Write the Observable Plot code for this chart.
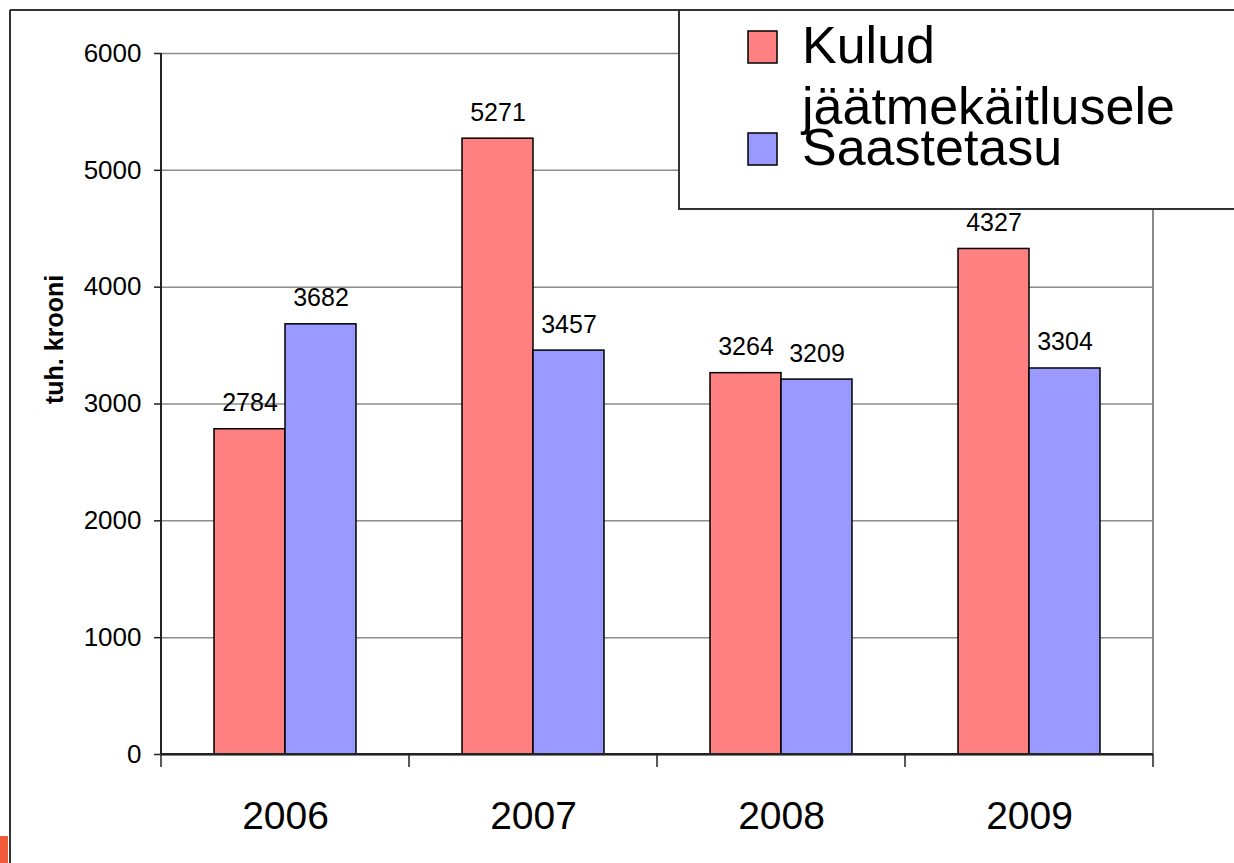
<!DOCTYPE html>
<html>
<head>
<meta charset="utf-8">
<script src="https://cdn.jsdelivr.net/npm/d3@7"></script>
<script src="https://cdn.jsdelivr.net/npm/@observablehq/plot@0.6"></script>
<style>
  html, body { margin: 0; padding: 0; background: #fff; }
  #wrap { position: relative; width: 1234px; height: 863px; overflow: hidden; font-family: "Liberation Sans", Arial, Helvetica, sans-serif; }
  #chart { position: absolute; left: 0; top: 0; }
  #legend { position: absolute; left: 0; top: 0; }
</style>
</head>
<body>
<div id="wrap">
  <div id="chart"></div>
  <svg id="legend" width="1234" height="863"></svg>
</div>
<script>
const years = ["2006", "2007", "2008", "2009"];
const series = ["Kulud jäätmekäitlusele", "Saastetasu"];
const kulud = [2784, 5271, 3264, 4327];
const saastetasu = [3682, 3457, 3209, 3304];
const yTicks = [0, 1000, 2000, 3000, 4000, 5000, 6000];
const colors = ["#FF8080", "#9999FF"];
const yLabel = "tuh. krooni";
const legendLines = [["Kulud", "jäätmekäitlusele"], ["Saastetasu"]];

const rows = [];
years.forEach((yr, i) => {
  rows.push({year: yr, series: series[0], value: kulud[i]});
  rows.push({year: yr, series: series[1], value: saastetasu[i]});
});

const font = "'Liberation Sans', Arial, Helvetica, sans-serif";

const chart = Plot.plot({
  width: 1234,
  height: 863,
  marginLeft: 161,
  marginRight: 81,
  marginTop: 53,
  marginBottom: 109,
  style: {fontFamily: font, background: "transparent", overflow: "visible", color: "#000"},
  fx: {domain: years, padding: 0, label: null, axis: null},
  x: {domain: series, paddingInner: 0, paddingOuter: 0.735, axis: null},
  y: {domain: [0, 6000], axis: null},
  color: {domain: series, range: colors},
  marks: [
    Plot.gridY(yTicks, {stroke: "#8c8c8c", strokeOpacity: 1, strokeWidth: 1.5}),
    Plot.barY(rows, {fx: "year", x: "series", y: "value", fill: "series", stroke: "#000", strokeWidth: 1.5}),
    Plot.text(rows, {fx: "year", x: "series", y: "value", text: d => String(d.value), lineAnchor: "bottom", dy: -18, fontSize: 25, fill: "#000"}),
    Plot.ruleY([0], {stroke: "#222", strokeWidth: 2}),
    Plot.axisY({ticks: yTicks, tickSize: 7, tickPadding: 13, fontSize: 26, label: null, tickFormat: d => String(d), stroke: "#222", strokeWidth: 1.5}),
    Plot.axisFx({anchor: "bottom", tickSize: 0, tickPadding: 47, fontSize: 39, label: null}),
    Plot.text([yLabel], {text: d => d, frameAnchor: "left", dx: -107, rotate: -90, fontSize: 25, fontWeight: "bold", fill: "#000", facetAnchor: "left"})
  ]
});
document.getElementById("chart").appendChild(chart);

// axis lines and category boundary ticks from the library's scales
const fx = chart.scale("fx");
const ys = chart.scale("y");
const svg = d3.select(chart);
const bounds = years.map(d => fx.apply(d));
bounds.push(fx.apply(years[years.length - 1]) + fx.bandwidth);
const y0 = ys.apply(0), yTop = ys.apply(6000);
const g = svg.append("g");
g.append("line").attr("x1", bounds[bounds.length - 1]).attr("x2", bounds[bounds.length - 1])
  .attr("y1", yTop).attr("y2", y0).attr("stroke", "#8c8c8c").attr("stroke-width", 2);
g.append("line").attr("x1", bounds[0]).attr("x2", bounds[0])
  .attr("y1", yTop).attr("y2", y0).attr("stroke", "#222").attr("stroke-width", 2);
g.append("line").attr("x1", bounds[0]).attr("x2", bounds[bounds.length - 1])
  .attr("y1", y0).attr("y2", y0).attr("stroke", "#222").attr("stroke-width", 2);
g.selectAll("line.tk").data(bounds).join("line").attr("class", "tk")
  .attr("x1", d => d).attr("x2", d => d).attr("y1", y0).attr("y2", y0 + 13)
  .attr("stroke", "#222").attr("stroke-width", 1.5);

// page frame, legend box
const lg = d3.select("#legend");
lg.append("line").attr("x1", 10).attr("x2", 10).attr("y1", 10).attr("y2", 863).attr("stroke", "#333").attr("stroke-width", 2);
lg.append("line").attr("x1", 10).attr("x2", 1234).attr("y1", 10).attr("y2", 10).attr("stroke", "#333").attr("stroke-width", 2);
lg.append("rect").attr("x", 0).attr("y", 836).attr("width", 8).attr("height", 27).attr("fill", "#F05A38");
lg.append("rect").attr("x", 679).attr("y", 10).attr("width", 570).attr("height", 199)
  .attr("fill", "#fff").attr("stroke", "#333").attr("stroke-width", 2);
const swatchY = [31, 133];
const baselines = [[63, 124], [165]];
series.forEach((s, i) => {
  lg.append("rect").attr("x", 748).attr("y", swatchY[i]).attr("width", 29).attr("height", 32)
    .attr("fill", colors[i]).attr("stroke", "#000").attr("stroke-width", 1.5);
  legendLines[i].forEach((t, j) => {
    lg.append("text").attr("x", 802).attr("y", baselines[i][j]).attr("font-size", 52)
      .attr("font-family", font).attr("fill", "#000").text(t);
  });
});
</script>
</body>
</html>
